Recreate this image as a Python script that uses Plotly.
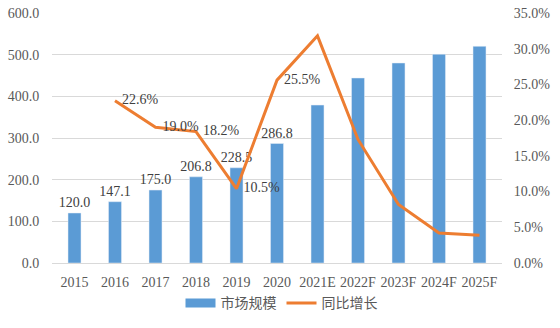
import plotly.graph_objects as go

years = ["2015", "2016", "2017", "2018", "2019", "2020", "2021E", "2022F", "2023F", "2024F", "2025F"]
market = [120.0, 147.1, 175.0, 206.8, 228.5, 286.8, 379.0, 444.0, 480.0, 501.0, 520.0]
market_labels = ["120.0", "147.1", "175.0", "206.8", "228.5", "286.8", "", "", "", "", ""]
growth = [None, 22.7, 19.0, 18.4, 10.4, 25.6, 31.8, 17.3, 8.2, 4.2, 3.9]
growth_labels = ["", "22.6%", "19.0%", "18.2%", "10.5%", "25.5%", "", "", "", "", ""]

left_ticks = [0, 100, 200, 300, 400, 500, 600]
right_ticks = [0, 5, 10, 15, 20, 25, 30, 35]

serif = "Liberation Serif, Times New Roman, serif"
cjk = "Noto Sans CJK SC, sans-serif"
gray = "#595959"
blue = "#5B9BD5"
orange = "#ED7D31"
pad = "\u00a0\u00a0"

fig = go.Figure()
fig.add_trace(go.Bar(
    x=years, y=market, name="市场规模", showlegend=False,
    marker=dict(color=blue),
    text=market_labels, textposition="outside", cliponaxis=False,
    constraintext="none",
    textfont=dict(family=serif, size=14, color="#404040"),
))
fig.add_trace(go.Scatter(
    x=years, y=growth, name="同比增长", yaxis="y2", mode="lines+text",
    line=dict(color=orange, width=3), showlegend=False,
    text=[pad + t if t else "" for t in growth_labels], textposition="middle right",
    textfont=dict(family=serif, size=14, color="#404040"),
    cliponaxis=False,
))
# legend-only entries
fig.add_trace(go.Scatter(x=[None], y=[None], name="市场规模", mode="lines",
                         line=dict(color=blue, width=9)))
fig.add_trace(go.Scatter(x=[None], y=[None], name="同比增长", mode="lines",
                         line=dict(color=orange, width=3), yaxis="y2"))

fig.update_layout(
    width=560, height=328,
    margin=dict(l=52, r=58, t=13, b=65, autoexpand=False),
    paper_bgcolor="white", plot_bgcolor="white",
    bargap=0.68,
    showlegend=True,
    legend=dict(orientation="h", x=0.51, xanchor="center",
                yref="container", y=0.075, yanchor="middle",
                font=dict(family=cjk, size=14, color=gray), itemwidth=30),
    xaxis=dict(type="category", showgrid=False, ticks="outside", ticklen=6,
               tickcolor="rgba(0,0,0,0)", showline=True,
               linecolor="#D9D9D9", linewidth=1,
               tickfont=dict(family=serif, size=14, color=gray)),
    yaxis=dict(range=[0, 600], tickvals=left_ticks,
               ticktext=[f"{v:.1f}" for v in left_ticks],
               showgrid=True, gridcolor="#D9D9D9", zeroline=False, showline=False,
               tickfont=dict(family=serif, size=14, color=gray),
               ticks="outside", ticklen=9, tickcolor="rgba(0,0,0,0)"),
    yaxis2=dict(range=[0, 35], overlaying="y", side="right", tickvals=right_ticks,
                ticktext=[f"{v:.1f}%" for v in right_ticks],
                showgrid=False, zeroline=False, showline=False,
                tickfont=dict(family=serif, size=14, color=gray),
                ticks="outside", ticklen=8, tickcolor="rgba(0,0,0,0)"),
)

fig.write_html("out.html")
